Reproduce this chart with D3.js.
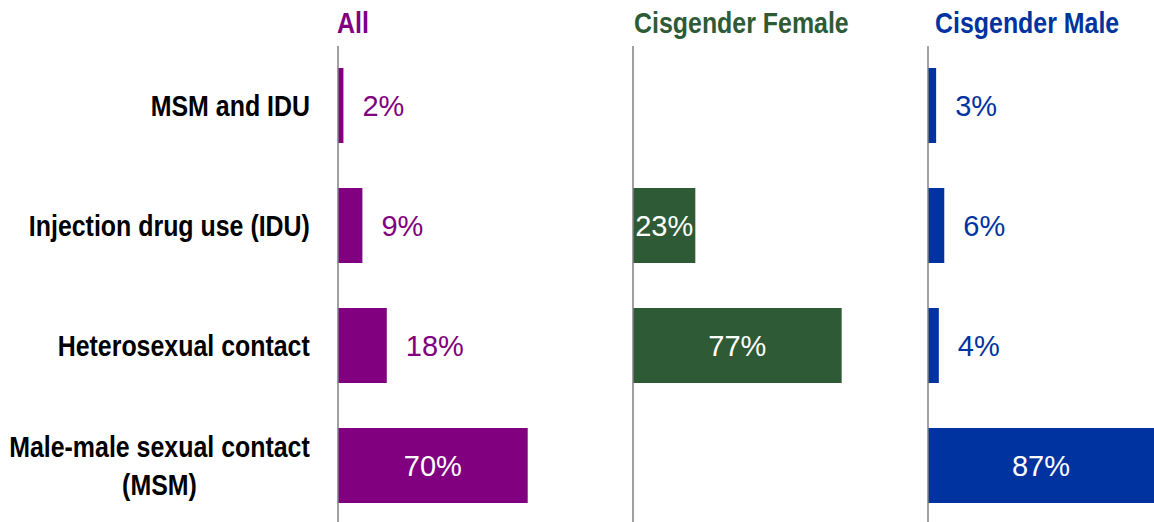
<!DOCTYPE html>
<html>
<head>
<meta charset="utf-8">
<script src="https://cdn.jsdelivr.net/npm/d3@7"></script>
<style>
  html, body { margin: 0; padding: 0; background: #fff; }
  svg { display: block; }
</style>
</head>
<body>
<svg id="chart" width="1154" height="522"></svg>
<script>
// ---- data ----
const categories = ["MSM and IDU", "Injection drug use (IDU)", "Heterosexual contact", "Male-male sexual contact (MSM)"];
const categoryLines = [["MSM and IDU"], ["Injection drug use (IDU)"], ["Heterosexual contact"], ["Male-male sexual contact", "(MSM)"]];
const panelTitles = ["All", "Cisgender Female", "Cisgender Male"];
const allValues = [2, 9, 18, 70];
const femaleValues = [null, 23, 77, null];
const maleValues = [3, 6, 4, 87];
const panelColors = ["#800080", "#2e5b35", "#0033a0"];

// ---- layout ----
const svg = d3.select("#chart");
const W = 1154, H = 522;
const boldFont = "'Liberation Sans', Arial, sans-serif";
const regular = "'Liberation Sans', Arial, sans-serif";
const SX = 0.86; // horizontal condensing to mimic a condensed bold face

const y = d3.scaleBand()
  .domain(categories)
  .range([45.5, 525.5])
  .paddingInner(0.375)
  .paddingOuter(0.1875);

const panels = [
  { title: panelTitles[0], values: allValues, color: panelColors[0], x0: 338, titleDx: -1 },
  { title: panelTitles[1], values: femaleValues, color: panelColors[1], x0: 633, titleDx: 1 },
  { title: panelTitles[2], values: maleValues, color: panelColors[2], x0: 928, titleDx: 7 }
];

// category labels
categories.forEach((c, i) => {
  const lines = categoryLines[i];
  const cy = y(c) + y.bandwidth() / 2;
  const lh = 38;
  const outer = svg.append("g");
  const inner = outer.append("g");
  const t = inner.append("text")
    .attr("text-anchor", "middle")
    .attr("font-family", boldFont)
    .attr("font-weight", "bold")
    .attr("font-size", 29)
    .attr("fill", "#000");
  lines.forEach((ln, j) => {
    t.append("tspan")
      .attr("x", 0)
      .attr("y", (j - (lines.length - 1) / 2) * lh)
      .attr("dy", "0.36em")
      .text(ln);
  });
  const bb = t.node().getBBox();
  inner.attr("transform", `scale(${SX},1)`);
  outer.attr("transform", `translate(${310 - bb.width * SX / 2},${cy})`);
});

panels.forEach(p => {
  const x = d3.scaleLinear().domain([0, 100]).range([p.x0, p.x0 + 271]);
  const g = svg.append("g");

  // title
  g.append("g")
    .attr("transform", `translate(${x(0) + p.titleDx},33) scale(${SX},1)`)
    .append("text")
    .attr("x", 0)
    .attr("y", 0)
    .attr("font-family", boldFont)
    .attr("font-weight", "bold")
    .attr("font-size", 29)
    .attr("fill", p.color)
    .text(p.title);

  const data = categories.map((c, i) => ({ c, v: p.values[i] })).filter(d => d.v !== null);

  g.selectAll("rect.bar")
    .data(data)
    .join("rect")
    .attr("class", "bar")
    .attr("x", x(0))
    .attr("y", d => y(d.c))
    .attr("width", d => x(d.v) - x(0))
    .attr("height", y.bandwidth())
    .attr("fill", p.color);

  g.selectAll("text.val")
    .data(data)
    .join("text")
    .attr("class", "val")
    .attr("font-family", regular)
    .attr("font-size", 29)
    .attr("y", d => y(d.c) + y.bandwidth() / 2)
    .attr("dy", "0.36em")
    .attr("x", d => d.v >= 20 ? (x(0) + Math.min(x(d.v), W)) / 2 : x(d.v) + 19)
    .attr("text-anchor", d => d.v >= 20 ? "middle" : "start")
    .attr("fill", d => d.v >= 20 ? "#fff" : p.color)
    .text(d => d.v + "%");

  // axis line
  g.append("line")
    .attr("x1", x(0)).attr("x2", x(0))
    .attr("y1", 46).attr("y2", H)
    .attr("stroke", "#808080")
    .attr("stroke-width", 1.5);
});
</script>
</body>
</html>
